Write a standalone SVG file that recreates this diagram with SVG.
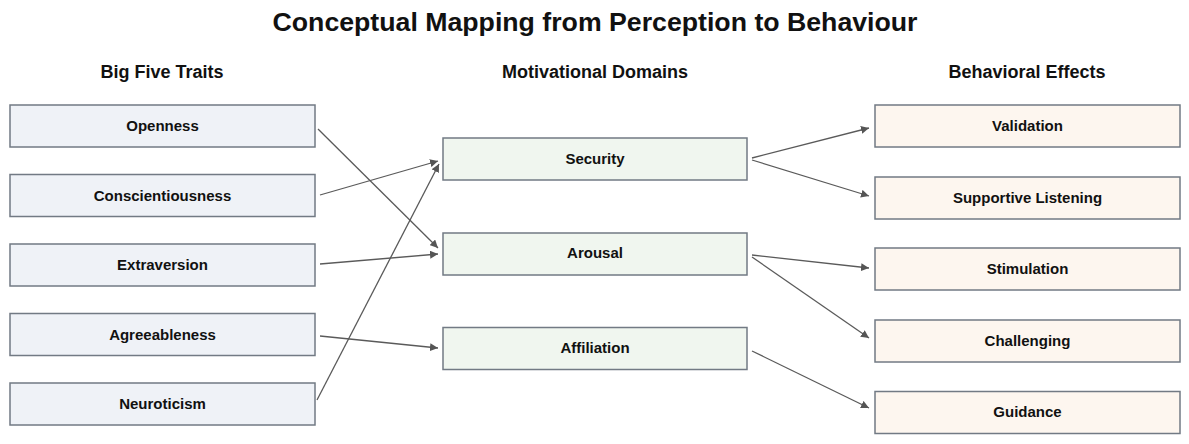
<svg xmlns="http://www.w3.org/2000/svg" width="1189" height="444" viewBox="0 0 1189 444">
<defs>
<marker id="ah" viewBox="0 0 10 10" refX="10" refY="5" markerWidth="8" markerHeight="8" markerUnits="userSpaceOnUse" orient="auto">
<path d="M0,0 L10,5 L0,10 z" fill="#555"/>
</marker>
</defs>
<style>
text{font-family:"Liberation Sans",Arial,sans-serif;font-weight:bold;fill:#111;text-anchor:middle}
.title{font-size:26.7px}
.hdr{font-size:18px}
.lbl{font-size:15px}
.node rect{stroke:#727a84;stroke-width:1.5}
.trait rect{fill:#eff2f7}
.dom rect{fill:#f0f6ef}
.eff rect{fill:#fdf6ef}
#connectors line{stroke:#5a5a5a;stroke-width:1.3;marker-end:url(#ah)}
</style>
<rect x="0" y="0" width="1189" height="444" fill="#fff"/>
<text class="title" x="595" y="31">Conceptual Mapping from Perception to Behaviour</text>
<text class="hdr" x="162" y="78">Big Five Traits</text>
<text class="hdr" x="595" y="78">Motivational Domains</text>
<text class="hdr" x="1027" y="78">Behavioral Effects</text>

<g id="openness" class="node trait"><rect x="10" y="105" width="305" height="42"/><text class="lbl" x="162.5" y="131">Openness</text></g>
<g id="conscientiousness" class="node trait"><rect x="10" y="174.5" width="305" height="42"/><text class="lbl" x="162.5" y="200.5">Conscientiousness</text></g>
<g id="extraversion" class="node trait"><rect x="10" y="244" width="305" height="42"/><text class="lbl" x="162.5" y="270">Extraversion</text></g>
<g id="agreeableness" class="node trait"><rect x="10" y="313.5" width="305" height="42"/><text class="lbl" x="162.5" y="339.5">Agreeableness</text></g>
<g id="neuroticism" class="node trait"><rect x="10" y="383" width="305" height="42"/><text class="lbl" x="162.5" y="409">Neuroticism</text></g>

<g id="security" class="node dom"><rect x="443" y="138" width="304" height="42"/><text class="lbl" x="595" y="164">Security</text></g>
<g id="arousal" class="node dom"><rect x="443" y="233" width="304" height="42"/><text class="lbl" x="595" y="258">Arousal</text></g>
<g id="affiliation" class="node dom"><rect x="443" y="327.5" width="304" height="42"/><text class="lbl" x="595" y="353">Affiliation</text></g>

<g id="validation" class="node eff"><rect x="875" y="105" width="305" height="42"/><text class="lbl" x="1027.5" y="131">Validation</text></g>
<g id="supportive" class="node eff"><rect x="875" y="177" width="305" height="42"/><text class="lbl" x="1027.5" y="202.5">Supportive Listening</text></g>
<g id="stimulation" class="node eff"><rect x="875" y="248" width="305" height="42"/><text class="lbl" x="1027.5" y="274">Stimulation</text></g>
<g id="challenging" class="node eff"><rect x="875" y="320" width="305" height="42"/><text class="lbl" x="1027.5" y="345.5">Challenging</text></g>
<g id="guidance" class="node eff"><rect x="875" y="391.5" width="305" height="42"/><text class="lbl" x="1027.5" y="417">Guidance</text></g>

<g id="connectors">
<line x1="318" y1="129" x2="438" y2="248"/>
<line x1="320" y1="195" x2="438" y2="161"/>
<line x1="320" y1="264" x2="438" y2="254"/>
<line x1="320" y1="336" x2="438" y2="348"/>
<line x1="317" y1="400" x2="439" y2="164"/>
<line x1="752" y1="158" x2="869" y2="128"/>
<line x1="752" y1="160" x2="869" y2="196"/>
<line x1="752" y1="255" x2="869" y2="268"/>
<line x1="752" y1="257" x2="869" y2="338"/>
<line x1="752" y1="351" x2="869" y2="408"/>
</g>
</svg>
